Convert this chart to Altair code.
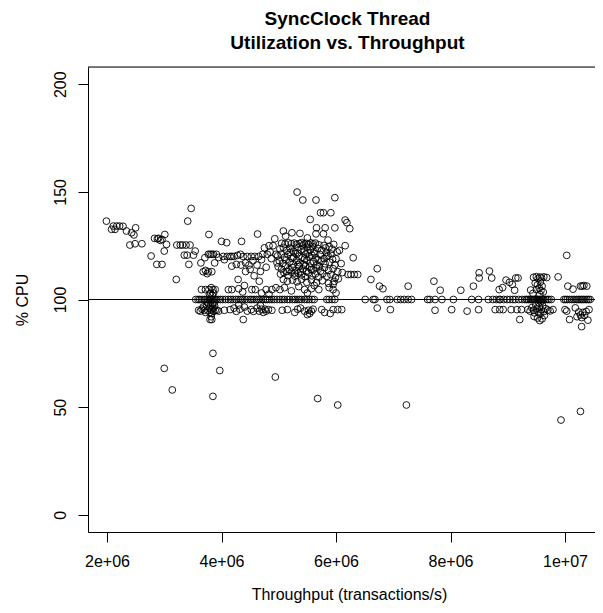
import altair as alt
import pandas as pd

# ---- data (x in millions of transactions/s, y in % CPU) ----
trend_pts = [
    (1.99, 136.4), (2.08, 132.6), (2.11, 134.1), (2.14, 132.6), (2.17, 134.1), (2.22, 134.1),
    (2.28, 134.0), (2.34, 131.8), (2.40, 125.3), (2.43, 131.0), (2.47, 130.0), (2.49, 125.9),
    (2.50, 133.3), (2.61, 125.9), (2.77, 120.2), (2.83, 128.4), (2.87, 116.3), (2.88, 128.2),
    (2.90, 128.4), (2.93, 127.5), (2.96, 116.3), (2.96, 127.9), (3.00, 122.5), (3.01, 130.2),
    (3.04, 125.6), (3.21, 109.3), (3.22, 125.3), (3.28, 125.3), (3.32, 125.3), (3.35, 120.6),
    (3.38, 125.3), (3.40, 120.6), (3.41, 136.4), (3.43, 116.3), (3.45, 125.3), (3.47, 142.3),
    (3.51, 120.6), (3.54, 122.5),
]

cluster38_pts = [
    (3.64, 117.0), (3.68, 112.9), (3.71, 119.4), (3.72, 113.5), (3.75, 112.0), (3.77, 121.0),
    (3.77, 112.9), (3.78, 130.2), (3.80, 121.0), (3.83, 121.0), (3.83, 112.9), (3.86, 121.0),
    (3.91, 121.0), (3.88, 117.0), (3.95, 119.5), (3.65, 104.6), (3.72, 104.6), (3.78, 104.6),
    (3.82, 105.5), (3.85, 104.6), (3.89, 104.6), (3.81, 103.0), (3.84, 102.0), (3.79, 102.5),
    (3.86, 103.0), (3.60, 95.0), (3.63, 94.6), (3.66, 95.5), (3.68, 96.5), (3.70, 95.0),
    (3.72, 94.0), (3.74, 97.0), (3.76, 95.0), (3.77, 98.0), (3.79, 96.0), (3.80, 94.0),
    (3.81, 97.5), (3.82, 95.5), (3.83, 93.5), (3.84, 98.0), (3.85, 96.0), (3.86, 94.5),
    (3.88, 97.0), (3.89, 95.0), (3.92, 95.0), (3.95, 94.6), (3.80, 90.7), (3.83, 90.7),
    (3.82, 92.0), (3.87, 98.5), (3.75, 98.8),
]

mid_pts = [
    (4.00, 127.0), (4.03, 120.0), (4.09, 126.4), (4.10, 120.0), (4.15, 120.0), (4.18, 120.0),
    (4.05, 118.5), (4.18, 115.5), (4.26, 116.3), (4.22, 120.0), (4.28, 120.5), (4.33, 121.0),
    (4.35, 127.0), (4.34, 116.0), (4.29, 109.3), (4.38, 120.0), (4.42, 117.0), (4.45, 120.0),
    (4.48, 116.0), (4.52, 120.0), (4.50, 114.0), (4.55, 118.0), (4.58, 120.0), (4.63, 130.4),
    (4.62, 116.0), (4.65, 120.0), (4.68, 113.0), (4.70, 118.5), (4.72, 121.0), (4.75, 124.0),
    (4.78, 115.0), (4.80, 121.0), (4.83, 125.0), (4.85, 122.0), (4.87, 119.0), (4.90, 125.0),
    (4.93, 128.2), (4.95, 121.0), (4.97, 117.0), (4.42, 113.0), (4.57, 111.0), (4.66, 108.5),
    (4.40, 106.5), (4.12, 104.6), (4.18, 104.6), (4.30, 105.0), (4.37, 103.5), (4.53, 104.6),
    (4.59, 104.6), (4.70, 103.0), (4.78, 104.6), (4.88, 104.6), (4.95, 105.5), (4.83, 102.5),
    (4.05, 95.0), (4.15, 95.3), (4.22, 96.0), (4.26, 94.5), (4.32, 95.5), (4.38, 90.7),
    (4.40, 96.5), (4.45, 94.6), (4.52, 95.3), (4.56, 94.5), (4.62, 96.0), (4.66, 94.6),
    (4.70, 95.5), (4.73, 94.0), (4.76, 95.5), (4.78, 94.6), (4.82, 95.3), (4.88, 95.0),
    (4.30, 97.5), (4.68, 97.2),
]

dense_pts = [
    (5.05, 126.1), (5.11, 125.8), (5.17, 126.3), (5.22, 125.9), (5.27, 126.2), (5.31, 125.7),
    (5.36, 126.0), (5.40, 126.4), (5.44, 125.8), (5.48, 126.1), (5.52, 125.6), (5.56, 126.3),
    (5.60, 125.9), (5.64, 126.2), (5.70, 125.4), (5.79, 125.1), (5.88, 124.6),
    (5.02, 123.5), (5.08, 124.2), (5.14, 122.8), (5.20, 123.9), (5.26, 122.4), (5.33, 124.0),
    (5.39, 123.1), (5.45, 122.6), (5.50, 124.3), (5.55, 123.0), (5.62, 122.2), (5.68, 123.7),
    (5.75, 122.9), (5.83, 121.8), (5.93, 123.4), (6.02, 122.1),
    (4.98, 120.3), (5.04, 121.1), (5.10, 119.6), (5.16, 120.8), (5.23, 119.2), (5.29, 121.4),
    (5.35, 120.1), (5.41, 119.5), (5.47, 121.0), (5.53, 119.8), (5.58, 120.6), (5.65, 119.3),
    (5.72, 120.9), (5.79, 119.0), (5.86, 120.4), (5.94, 118.7),
    (5.01, 117.9), (5.07, 116.8), (5.13, 118.4), (5.19, 117.2), (5.25, 116.5), (5.31, 118.1),
    (5.37, 117.0), (5.43, 116.3), (5.49, 118.2), (5.55, 116.9), (5.61, 117.6), (5.67, 116.1),
    (5.74, 117.8), (5.81, 116.6), (5.89, 117.3), (5.98, 116.0),
    (4.99, 115.2), (5.05, 114.1), (5.12, 115.6), (5.18, 113.8), (5.24, 114.9), (5.30, 113.4),
    (5.36, 115.3), (5.42, 114.2), (5.48, 113.1), (5.54, 115.0), (5.60, 113.7), (5.66, 114.6),
    (5.73, 113.2), (5.80, 114.8), (5.87, 113.5), (5.95, 114.3), (6.03, 112.9),
    (5.03, 111.8), (5.09, 112.5), (5.16, 111.1), (5.22, 112.7), (5.28, 110.9), (5.34, 112.2),
    (5.40, 111.4), (5.46, 110.6), (5.52, 112.4), (5.58, 111.0), (5.64, 111.9), (5.70, 110.4),
    (5.77, 112.0), (5.84, 110.8), (5.91, 111.6), (5.99, 110.2),
    (5.08, 109.3), (5.15, 108.5), (5.24, 109.0), (5.32, 108.2), (5.40, 109.4), (5.49, 108.0),
    (5.57, 109.1), (5.66, 107.9), (5.76, 108.7), (5.87, 107.5), (5.97, 108.4), (6.04, 109.6),
    (5.26, 119.7), (5.34, 116.2), (5.45, 118.8), (5.51, 121.7), (5.57, 113.9), (5.63, 121.3),
    (5.69, 118.5), (5.38, 112.9), (5.20, 121.9), (5.14, 113.0), (5.47, 115.7), (5.59, 124.6),
    (5.33, 121.6), (5.42, 124.9), (5.28, 112.3), (5.71, 115.4), (5.84, 119.9), (5.91, 121.2),
    (6.00, 118.9), (5.96, 125.6), (5.82, 124.0),
]

upper_pts = [
    (5.08, 131.8), (5.12, 129.4), (5.23, 131.0), (5.37, 130.7), (5.50, 128.6), (5.32, 149.9),
    (5.42, 146.2), (5.65, 146.2), (5.98, 147.3), (5.55, 137.2), (5.73, 140.3), (5.78, 140.3),
    (5.91, 140.3), (5.66, 133.3), (5.81, 133.3), (5.98, 133.3), (5.65, 130.5), (5.78, 130.5),
    (5.86, 127.6), (6.16, 136.9), (6.19, 135.7), (6.24, 132.9), (6.16, 125.0), (6.30, 119.4),
    (6.21, 111.6), (6.26, 111.6), (6.32, 111.6), (6.38, 111.6), (6.06, 122.8), (6.09, 116.7),
    (6.11, 112.5), (5.02, 104.6), (5.10, 105.5), (5.22, 104.0), (5.35, 106.0), (5.45, 104.6),
    (5.50, 103.0), (5.57, 105.0), (5.62, 106.5), (5.70, 104.6), (5.88, 105.5), (5.95, 104.6),
    (6.00, 103.0), (5.95, 107.0),
    (5.06, 95.0), (5.15, 95.3), (5.28, 94.0), (5.33, 95.5), (5.38, 96.0), (5.45, 94.6),
    (5.52, 95.0), (5.54, 93.5), (5.57, 94.6), (5.60, 95.5), (5.75, 95.3), (5.80, 94.0),
    (5.90, 93.5), (5.95, 95.3), (6.03, 95.3), (6.10, 95.3), (5.50, 93.0),
]

sparse_pts = [
    (6.61, 109.3), (6.72, 114.3), (6.76, 106.2), (6.82, 105.0), (6.72, 96.0), (6.95, 95.3),
    (7.26, 106.2), (7.71, 108.5), (7.82, 104.3), (7.73, 95.0), (8.02, 95.3), (8.18, 104.3),
    (8.29, 94.6), (8.40, 106.2), (8.50, 110.0), (8.50, 112.4), (8.68, 113.2), (8.72, 110.0),
    (8.49, 95.3), (8.78, 95.3), (8.86, 95.3), (8.92, 95.3), (8.85, 104.6), (8.91, 105.5),
    (8.97, 109.0), (9.03, 108.0), (9.08, 107.0), (9.14, 110.0), (9.18, 110.0), (9.12, 104.3),
    (9.21, 90.7), (9.06, 95.3), (9.16, 95.3), (9.24, 95.3),
]

right_pts = [
    (9.45, 110.3), (9.50, 110.6), (9.53, 109.8), (9.56, 110.4), (9.59, 110.1), (9.63, 110.5),
    (9.68, 110.2), (9.48, 107.6), (9.52, 106.8), (9.57, 108.1), (9.60, 106.2), (9.55, 105.3),
    (9.58, 104.1), (9.50, 104.6), (9.40, 104.4), (9.44, 102.8), (9.56, 102.4), (9.62, 103.5),
    (9.35, 95.3), (9.39, 94.6), (9.42, 96.2), (9.45, 95.0), (9.47, 93.8), (9.49, 97.4),
    (9.51, 95.6), (9.53, 94.2), (9.55, 96.8), (9.57, 93.5), (9.59, 95.2), (9.61, 97.0),
    (9.63, 94.4), (9.66, 95.8), (9.70, 95.1), (9.74, 94.7), (9.79, 95.3), (9.46, 92.1),
    (9.52, 91.4), (9.56, 90.2), (9.60, 91.0), (9.64, 92.6), (9.54, 98.4), (9.58, 98.9),
    (9.88, 110.5),
    (10.03, 120.5), (10.05, 106.2), (10.14, 104.8), (10.00, 95.3), (10.03, 94.6), (10.08, 90.7),
    (10.18, 96.1), (10.21, 92.0), (10.24, 94.2), (10.27, 92.8), (10.29, 91.6), (10.31, 94.0),
    (10.34, 92.6), (10.37, 94.4), (10.40, 90.4), (10.29, 87.4), (10.27, 106.2), (10.30, 106.2),
    (10.33, 106.5), (10.38, 106.2), (10.42, 95.3),
]

outlier_pts = [
    (3.00, 68.0), (3.14, 58.0), (3.85, 75.0), (3.97, 67.0), (3.85, 55.0), (4.94, 64.0),
    (5.68, 54.0), (6.03, 51.0), (7.23, 51.0), (9.93, 44.0), (10.27, 48.0),
]

# throughput values (millions) of the points sitting exactly at 100 % CPU
at100_x = [
    3.55, 3.59, 3.62, 3.66, 3.70, 3.73, 3.76, 3.79, 3.81, 3.83, 3.85, 3.87, 3.90, 3.94, 3.98,
    4.02, 4.07, 4.12, 4.16, 4.20, 4.25, 4.29, 4.33, 4.37, 4.41, 4.45, 4.50, 4.53, 4.57, 4.61,
    4.65, 4.69, 4.73, 4.77, 4.80, 4.84, 4.88, 4.92, 4.97,
    5.02, 5.06, 5.10, 5.15, 5.19, 5.24, 5.28, 5.32, 5.36, 5.40, 5.45, 5.49, 5.53, 5.58, 5.62,
    5.84, 5.88, 5.93, 5.98,
    6.51, 6.65, 6.68, 6.89, 6.94, 7.07, 7.13, 7.19, 7.26, 7.32, 7.60, 7.64, 7.73, 7.85, 8.05,
    8.37, 8.49, 8.66, 8.74, 8.80, 8.85, 8.87, 8.93, 8.99, 9.04, 9.09, 9.13, 9.19, 9.25,
    9.30, 9.33, 9.36, 9.39, 9.41, 9.43, 9.45, 9.47, 9.49, 9.51, 9.53, 9.55, 9.57, 9.59, 9.61,
    9.63, 9.66, 9.69, 9.72, 9.76,
    9.98, 10.01, 10.04, 10.08, 10.12, 10.16, 10.20, 10.23, 10.26, 10.29, 10.32, 10.35, 10.38,
    10.41, 10.44,
]
at100_y = 100.0

ref_level = [100]

x_ticks = [2e6, 4e6, 6e6, 8e6, 1e7]
x_tick_labels = ["2e+06", "4e+06", "6e+06", "8e+06", "1e+07"]
y_ticks = [0, 50, 100, 150, 200]

title_lines = ["SyncClock Thread", "Utilization vs. Throughput"]
x_title = "Throughput (transactions/s)"
y_title = "% CPU"

# ---- build table ----
rows = []
for grp in [trend_pts, cluster38_pts, mid_pts, dense_pts, upper_pts, sparse_pts, right_pts, outlier_pts]:
    for xv, yv in grp:
        rows.append({"tput": xv * 1e6, "cpu": yv})
for xv in at100_x:
    rows.append({"tput": xv * 1e6, "cpu": at100_y})
df = pd.DataFrame(rows)

FONT = "Liberation Sans"
W, H = 507, 465

label_expr = ""
for v, lab in zip(x_ticks, x_tick_labels):
    label_expr += f"datum.value == {v} ? '{lab}' : "
label_expr += "''"

x_scale = alt.Scale(domain=[1.668e6, 10.524e6], nice=False, zero=False)
y_scale = alt.Scale(domain=[-8, 208], nice=False, zero=False)

x_axis = alt.Axis(
    values=x_ticks, labelExpr=label_expr, title=x_title, grid=False,
    tickSize=10, labelPadding=11, titlePadding=17, domainColor="black", tickColor="black",
    labelColor="black", titleColor="black", labelFontSize=16, titleFontSize=16,
    titleFontWeight="normal", labelFont=FONT, titleFont=FONT, labelFlush=False,
    labelOverlap=False, domainWidth=1, tickWidth=1, titleX=261,
)
y_axis = alt.Axis(
    values=y_ticks, title=y_title, grid=False, tickSize=10, labelPadding=10,
    titlePadding=22, labelAngle=270, labelAlign="center", labelBaseline="bottom",
    domainColor="black", tickColor="black", labelColor="black", titleColor="black",
    labelFontSize=16, titleFontSize=16, titleFontWeight="normal", labelFont=FONT,
    titleFont=FONT, labelFlush=False, labelOverlap=False, domainWidth=1, tickWidth=1,
)

points = alt.Chart(df).mark_point(
    shape="circle", filled=False, size=46, stroke="black", strokeWidth=1, opacity=0.9
).encode(
    x=alt.X("tput:Q", scale=x_scale, axis=x_axis),
    y=alt.Y("cpu:Q", scale=y_scale, axis=y_axis),
)

hline = alt.Chart(pd.DataFrame({"cpu": ref_level})).mark_rule(
    color="black", strokeWidth=1
).encode(
    y=alt.Y("cpu:Q", scale=y_scale, axis=y_axis),
)

top_border = alt.Chart(alt.Data(values=[{"k": 0}])).mark_rule(
    color="black", strokeWidth=1
).encode(x=alt.value(0), x2=alt.value(W), y=alt.value(0))

chart = alt.layer(points, hline, top_border).properties(
    width=W,
    height=H,
    title=alt.Title(
        title_lines, fontSize=19, fontWeight="bold", font=FONT, color="black",
        lineHeight=24, anchor="middle", frame="group", offset=14, dx=6,
    ),
    padding={"left": 80, "top": 59, "right": 0, "bottom": 73},
    autosize=alt.AutoSizeParams(type="none"),
).configure_view(stroke=None).configure(font=FONT, background="white")

chart.save("out.html", embed_options={"renderer": "svg", "actions": False})
